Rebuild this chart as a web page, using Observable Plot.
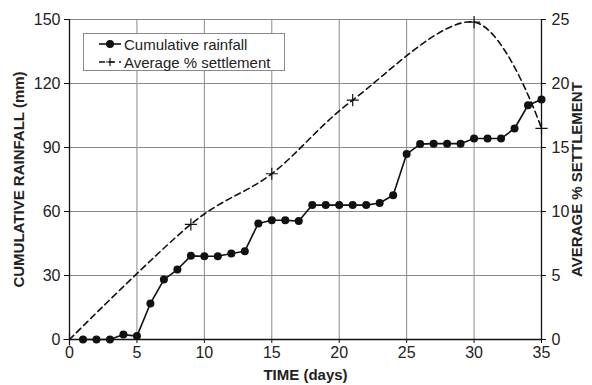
<!DOCTYPE html>
<html>
<head>
<meta charset="utf-8">
<script src="https://cdn.jsdelivr.net/npm/d3@7"></script>
<script src="https://cdn.jsdelivr.net/npm/@observablehq/plot@0.6"></script>
<style>
  body { margin: 0; background: #fff; }
  #wrap { position: relative; width: 592px; height: 385px; font-family: "Liberation Sans", Arial, sans-serif; }
  #wrap svg { font-family: "Liberation Sans", Arial, sans-serif; }
  #wrap svg g[aria-label$="tick label"] text { font-size: 16px; fill: #222; }
  #wrap svg g[aria-label$="axis label"] text { font-size: 15px; font-weight: bold; fill: #222; }
  #legend { position: absolute; left: 83px; top: 33px; width: 202px; height: 38px; box-sizing: border-box;
            border: 1px solid #8a8a8a; background: #fff; font-size: 15px; color: #222; }
  .row { position: absolute; left: 0; height: 18px; display: flex; align-items: center; }
  .row svg { width: 40px; height: 18px; }
  .row span { margin-left: 0px; white-space: nowrap; }
</style>
</head>
<body>
<div id="wrap">
  <div id="chart"></div>
  <div id="legend">
    <div class="row" style="top:1px">
      <svg viewBox="0 0 40 18"><line x1="15" y1="9" x2="37" y2="9" stroke="#111" stroke-width="1.6"/><circle cx="26" cy="9" r="4" fill="#111"/></svg>
      <span>Cumulative rainfall</span>
    </div>
    <div class="row" style="top:19px">
      <svg viewBox="0 0 40 18"><line x1="15" y1="9" x2="37" y2="9" stroke="#111" stroke-width="1.6" stroke-dasharray="6,4"/><path d="M26,5V13M22,9H30" stroke="#111" stroke-width="1.2"/></svg>
      <span>Average % settlement</span>
    </div>
  </div>
</div>
<script>
// Cumulative rainfall (mm) by day
const rainDays = [1,2,3,4,5,6,7,8,9,10,11,12,13,14,15,16,17,18,19,20,21,22,23,24,25,26,27,28,29,30,31,32,33,34,35];
const rainfall = [0,0,0,2.3,1.6,16.9,28.1,32.8,39.2,39,39,40.3,41.4,54.4,55.9,55.9,55.5,63,63,63,63,63,64,67.6,86.9,91.6,91.8,91.8,91.8,94.2,94.2,94.2,98.9,109.8,112.5];

// Average % settlement by day
const settleDays = [0,9,15,21,30,35];
const settlement = [0,9,12.95,18.7,24.8,16.5];

// Axis ticks
const xTicks = [0,5,10,15,20,25,30,35];
const yTicks = [0,30,60,90,120,150];
const y2Ticks = [0,5,10,15,20,25];

const ratio = 150 / 25; // right axis maps 0–25 onto 0–150

const rain = rainDays.map((d, i) => ({day: d, value: rainfall[i]}));
const settle = settleDays.map((d, i) => ({day: d, value: settlement[i] * ratio}));

const chart = Plot.plot({
  width: 592,
  height: 385,
  marginLeft: 69,
  marginRight: 51,
  marginTop: 19,
  marginBottom: 46,
  x: {domain: [0, 35]},
  y: {domain: [0, 150]},
  marks: [
    Plot.gridX(xTicks.slice(1, -1), {stroke: "#8a8a8a", strokeOpacity: 1}),
    Plot.gridY(yTicks.slice(1), {stroke: "#8a8a8a", strokeOpacity: 1}),
    Plot.axisX({ticks: xTicks, tickSize: 4, tickPadding: 3, label: "TIME (days)", labelAnchor: "center", labelArrow: "none", labelOffset: 40, stroke: "#111"}),
    Plot.axisY({anchor: "left", ticks: yTicks, tickSize: 5, tickPadding: 4, label: "CUMULATIVE RAINFALL (mm)", labelAnchor: "center", labelArrow: "none", labelOffset: 56, stroke: "#111"}),
    Plot.axisY({anchor: "right", ticks: y2Ticks.map(v => v * ratio), tickFormat: v => String(Math.round(v / ratio)), tickSize: 4, tickPadding: 6, label: "AVERAGE % SETTLEMENT", labelAnchor: "center", labelArrow: "none", labelOffset: 40, stroke: "#111"}),
    Plot.ruleX([0, 35], {stroke: "#111", strokeWidth: 1.3}),
    Plot.ruleY([0], {stroke: "#111", strokeWidth: 1.3}),
    Plot.line(settle, {x: "day", y: "value", curve: "cardinal", stroke: "#111", strokeWidth: 1.6, strokeDasharray: "6,4"}),
    Plot.dot(settle, {x: "day", y: "value", symbol: "plus", r: 4, stroke: "#111", strokeWidth: 1.2}),
    Plot.line(rain, {x: "day", y: "value", stroke: "#111", strokeWidth: 1.6}),
    Plot.dot(rain, {x: "day", y: "value", r: 4, fill: "#111"})
  ]
});
document.getElementById("chart").appendChild(chart);
</script>
</body>
</html>
